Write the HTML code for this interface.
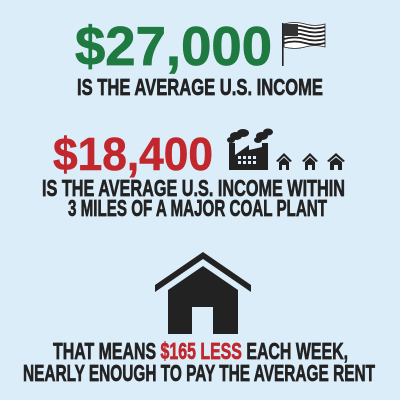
<!DOCTYPE html>
<html><head><meta charset="utf-8"><style>
html,body{margin:0;padding:0;background:#dcedfa;}
svg{display:block}
text{font-family:"Liberation Sans",sans-serif;font-weight:bold;}
.cap{stroke:#222;stroke-width:0.7;}
</style></head><body>
<svg width="400" height="400" viewBox="0 0 400 400">
<rect width="400" height="400" fill="#dcedfa"/>
<text x="75" y="65" font-size="55" fill="#1e7a40" stroke="#1e7a40" stroke-width="0.8" textLength="197" lengthAdjust="spacingAndGlyphs">$27,000</text>
<g>
<rect x="282" y="23" width="1.6" height="43" fill="#222"/>
<path d="M284 24 Q295 21 305 24 T325 24 L325 47 Q315 44 305 47 T284 47 Z" fill="#fff" stroke="#222" stroke-width="0.8"/>
<path d="M284 27 Q295 24 305 27 T325 27 M284 31 Q295 28 305 31 T325 31 M284 35 Q295 32 305 35 T325 35 M284 39 Q295 36 305 39 T325 39 M284 43 Q295 40 305 43 T325 43" stroke="#222" stroke-width="1.8" fill="none"/>
<rect x="284" y="24" width="14" height="12" fill="#333"/>
</g>
<text class="cap" x="77" y="95" font-size="23" fill="#222" textLength="246" lengthAdjust="spacingAndGlyphs">IS THE AVERAGE U.S. INCOME</text>
<text x="53" y="170" font-size="46" fill="#c1272d" stroke="#c1272d" stroke-width="0.6" textLength="160" lengthAdjust="spacingAndGlyphs">$18,400</text>
<g fill="#222">
<ellipse cx="236" cy="136" rx="6" ry="4"/><ellipse cx="243" cy="133" rx="6" ry="4"/><ellipse cx="231" cy="140" rx="4" ry="3"/>
<ellipse cx="262" cy="136" rx="6" ry="4"/><ellipse cx="268" cy="132" rx="5" ry="3.5"/><ellipse cx="258" cy="140" rx="4" ry="3"/>
<rect x="229" y="143" width="6" height="27"/><rect x="262" y="143" width="6" height="27"/>
<path d="M235 155 L249 145 L249 150 L262 147 L262 170 L235 170 Z"/>
<g fill="#dcedfa"><rect x="238" y="156" width="3" height="3"/><rect x="243" y="156" width="3" height="3"/><rect x="248" y="156" width="3" height="3"/><rect x="253" y="156" width="3" height="3"/>
<rect x="238" y="161" width="3" height="3"/><rect x="243" y="161" width="3" height="3"/><rect x="248" y="161" width="3" height="3"/><rect x="253" y="161" width="3" height="3"/></g>
</g>
<g fill="#222">
<path d="M276 161 L284 153 L292 161 L290 162 L284 156 L278 162 Z"/><path d="M279 162 L284 157.5 L289 162 L289 170 L286 170 L286 165 L282 165 L282 170 L279 170 Z"/>
<path d="M302 161 L310 153 L318 161 L316 162 L310 156 L304 162 Z"/><path d="M305 162 L310 157.5 L315 162 L315 170 L312 170 L312 165 L308 165 L308 170 L305 170 Z"/>
<path d="M327 161 L336 153 L345 161 L343 162 L336 156 L329 162 Z"/><path d="M330 162 L336 157.5 L342 162 L342 170 L338 170 L338 165 L334 165 L334 170 L330 170 Z"/>
</g>
<text class="cap" x="42" y="196" font-size="23" fill="#222" textLength="303" lengthAdjust="spacingAndGlyphs">IS THE AVERAGE U.S. INCOME WITHIN</text>
<text class="cap" x="68" y="216" font-size="23" fill="#222" textLength="259" lengthAdjust="spacingAndGlyphs">3 MILES OF A MAJOR COAL PLANT</text>
<g fill="#222">
<path d="M155 285 L203 252 L251 285 L251 292 L203 259 L155 292 Z"/>
<path d="M168 290 L203 266 L238 290 L238 334 L213 334 L213 307 L192 307 L192 334 L168 334 Z"/>
</g>
<text class="cap" x="53" y="359" font-size="23" fill="#222" textLength="295" lengthAdjust="spacingAndGlyphs">THAT MEANS <tspan fill="#c1272d" stroke="#c1272d">$165 LESS</tspan> EACH WEEK,</text>
<text class="cap" x="23" y="381" font-size="23" fill="#222" textLength="352" lengthAdjust="spacingAndGlyphs">NEARLY ENOUGH TO PAY THE AVERAGE RENT</text>
</svg>
</body></html>
